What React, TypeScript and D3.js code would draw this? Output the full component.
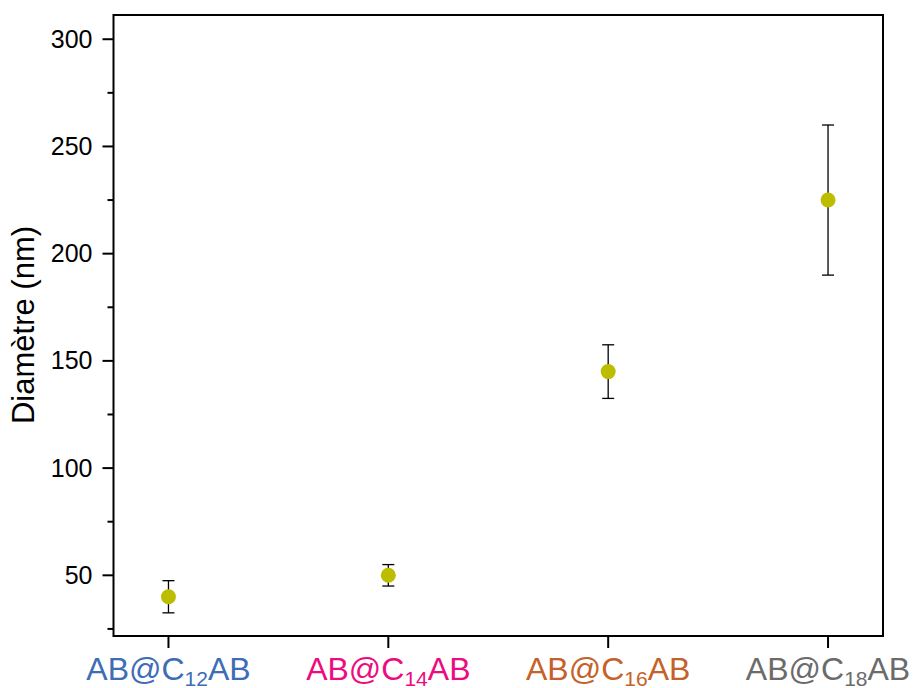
import React from "react";
import * as d3 from "d3";

const categories = ["C12", "C14", "C16", "C18"];
const subscripts = ["12", "14", "16", "18"];
const labelColors = ["#3d6db5", "#ec0c80", "#c4622a", "#6b6b6b"];
const values = [40, 50, 145, 225];
const errors = [7.5, 5, 12.5, 35];
const yTicks = [50, 100, 150, 200, 250, 300];
const yMinorTicks = [25, 75, 125, 175, 225, 275];

const W = 913;
const H = 688;
const margin = { left: 113.5, top: 15, right: 30, bottom: 52 };

export default function App() {
  const x = d3.scaleLinear().domain([0.75, 4.25]).range([margin.left, W - margin.right]);
  const y = d3.scaleLinear().domain([21.7, 311.3]).range([H - margin.bottom, margin.top]);
  const font = "'Liberation Sans', Arial, sans-serif";
  const x0 = margin.left;
  const x1 = W - margin.right;
  const y0 = H - margin.bottom;
  const y1 = margin.top;
  return (
    <svg width={W} height={H} style={{ position: "absolute", left: 0, top: 0 }} fontFamily={font}>
      <rect x={0} y={0} width={W} height={H} fill="#fff" />
      {/* frame */}
      <rect x={x0} y={y1} width={x1 - x0} height={y0 - y1} fill="none" stroke="#000" strokeWidth={2} />
      {/* y ticks */}
      {yTicks.map((t) => (
        <g key={"y" + t}>
          <line x1={x0 - 11} x2={x0} y1={y(t)} y2={y(t)} stroke="#000" strokeWidth={2} />
          <text x={x0 - 21} y={y(t)} dy="0.34em" textAnchor="end" fontSize={25} fill="#000">
            {t}
          </text>
        </g>
      ))}
      {yMinorTicks.map((t) => (
        <line key={"m" + t} x1={x0 - 6} x2={x0} y1={y(t)} y2={y(t)} stroke="#000" strokeWidth={2} />
      ))}
      {/* x ticks and labels */}
      {categories.map((c, i) => (
        <g key={c}>
          <line x1={x(i + 1)} x2={x(i + 1)} y1={y0} y2={y0 + 12} stroke="#000" strokeWidth={2} />
          <text x={x(i + 1)} y={680} textAnchor="middle" fontSize={32} fill={labelColors[i]}>
            AB@C
            <tspan fontSize={21} dy={6}>{subscripts[i]}</tspan>
            <tspan dy={-6}>AB</tspan>
          </text>
        </g>
      ))}
      {/* y title */}
      <text
        transform={`translate(34, 325) rotate(-90)`}
        textAnchor="middle"
        fontSize={31}
        fill="#000"
      >
        Diamètre (nm)
      </text>
      {/* error bars */}
      {values.map((v, i) => (
        <g key={"e" + i} stroke="#000" strokeWidth={1.3}>
          <line x1={x(i + 1)} x2={x(i + 1)} y1={y(v - errors[i])} y2={y(v + errors[i])} />
          <line x1={x(i + 1) - 6} x2={x(i + 1) + 6} y1={y(v - errors[i])} y2={y(v - errors[i])} />
          <line x1={x(i + 1) - 6} x2={x(i + 1) + 6} y1={y(v + errors[i])} y2={y(v + errors[i])} />
        </g>
      ))}
      {/* points */}
      {values.map((v, i) => (
        <circle key={"p" + i} cx={x(i + 1)} cy={y(v)} r={7.5} fill="#bdbd00" />
      ))}
    </svg>
  );
}
